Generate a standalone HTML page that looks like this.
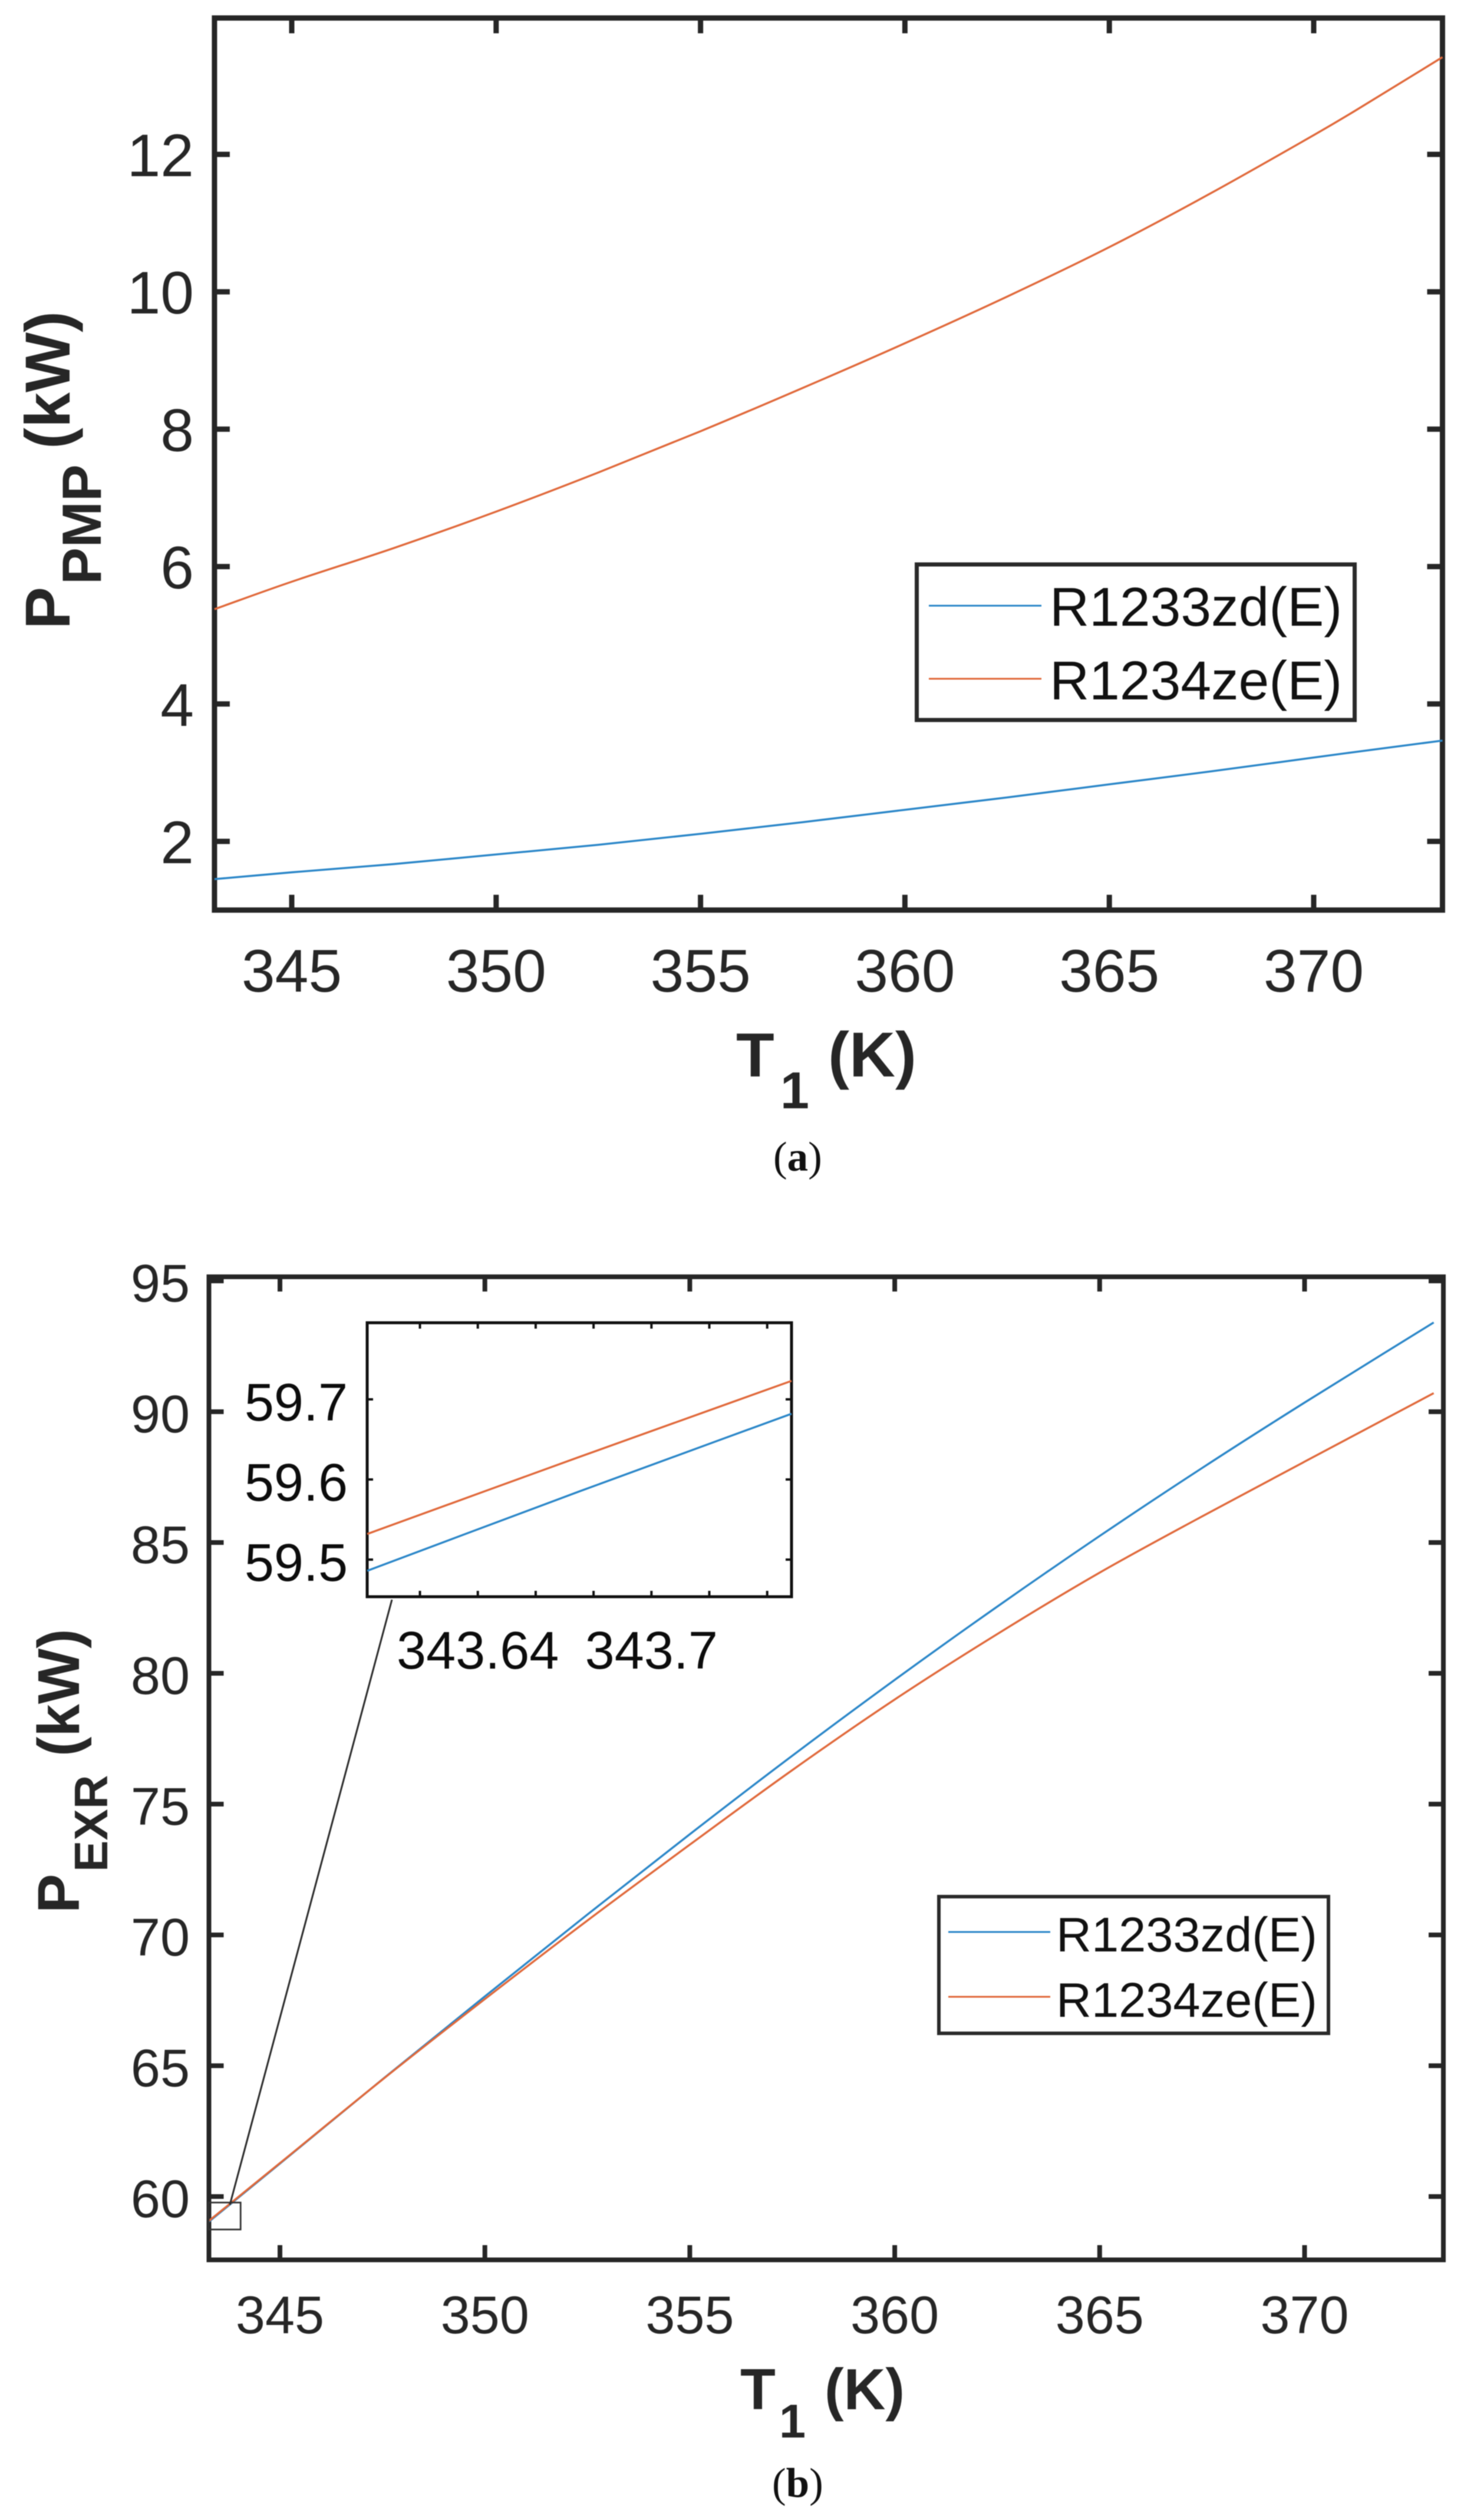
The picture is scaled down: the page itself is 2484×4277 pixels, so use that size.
<!DOCTYPE html>
<html lang="en">
<head>
<meta charset="utf-8">
<title>Pump and expander power versus temperature</title>
<style>
html,body{margin:0;padding:0;background:#fff;width:2484px;height:4277px;overflow:hidden}
svg{display:block;filter:blur(0.7px)}
text{font-family:"Liberation Sans",Arial,sans-serif}
.tick{fill:#262626}
.lab{fill:#262626;font-weight:700}
.leg{fill:#111;}
.cap{font-family:"Liberation Serif",serif;fill:#111}
.ins{fill:#0c0c0c}
</style>
</head>
<body>
<svg id="figure" xmlns="http://www.w3.org/2000/svg" width="2484" height="4277" viewBox="0 0 2484 4277">
  <rect width="2484" height="4277" fill="#fff"/>

  <g id="chart-a">
    <g id="a-marks"></g>
    <g>
      <rect x="1555.5" y="958" width="743" height="264" fill="#fff" stroke="#2a2a2a" stroke-width="7"/>
      <line x1="1576" y1="1028" x2="1767" y2="1028" stroke="#2a86c8" stroke-width="3"/>
      <line x1="1576" y1="1152" x2="1767" y2="1152" stroke="#e0683a" stroke-width="3"/>
      <text class="leg" x="1781" y="1062" font-size="93">R1233zd(E)</text>
      <text class="leg" x="1781" y="1187" font-size="93">R1234ze(E)</text>
    </g>
    <g>
      <text class="lab" x="1249" y="1827" font-size="106">T</text>
      <text class="lab" x="1324" y="1881" font-size="88">1</text>
      <text class="lab" x="1405" y="1827" font-size="108">(K)</text>
    </g>
    <g>
      <text class="lab" transform="translate(118 1068) rotate(-90)" font-size="108">P</text>
      <text class="lab" transform="translate(171 992) rotate(-90)" font-size="94">PMP</text>
      <text class="lab" transform="translate(118 762) rotate(-90)" font-size="108">(kW)</text>
    </g>
    <text class="cap" x="1312" y="1987" font-size="71">(<tspan font-weight="700">a</tspan>)</text>
  </g>

  <g id="chart-b">
    <g id="b-marks"></g>
    <g>
      <rect x="1593" y="3219" width="661" height="232" fill="#fff" stroke="#2a2a2a" stroke-width="6"/>
      <line x1="1609" y1="3279" x2="1782" y2="3279" stroke="#2a86c8" stroke-width="3"/>
      <line x1="1609" y1="3389" x2="1782" y2="3389" stroke="#e0683a" stroke-width="3"/>
      <text class="leg" x="1792" y="3312" font-size="83">R1233zd(E)</text>
      <text class="leg" x="1792" y="3423" font-size="83">R1234ze(E)</text>
    </g>
    <g>
      <text class="lab" x="1256" y="4089" font-size="98">T</text>
      <text class="lab" x="1322" y="4137" font-size="81">1</text>
      <text class="lab" x="1399" y="4089" font-size="98">(K)</text>
    </g>
    <g>
      <text class="lab" transform="translate(134 3247) rotate(-90)" font-size="100">P</text>
      <text class="lab" transform="translate(182 3177) rotate(-90)" font-size="80">EXR</text>
      <text class="lab" transform="translate(134 2981) rotate(-90)" font-size="100">(kW)</text>
    </g>
    <text class="cap" x="1310" y="4238" font-size="71">(<tspan font-weight="700">b</tspan>)</text>
  </g>
</svg>

<script>
// Chart (a): pump power
const aTemps = [343.11, 345, 347.5, 350, 352.5, 355, 357.5, 360, 362.5, 365, 367.5, 370, 371, 373.15];
const aR1233 = [1.45, 1.55, 1.67, 1.81, 1.95, 2.11, 2.28, 2.46, 2.64, 2.83, 3.02, 3.22, 3.30, 3.467];
const aR1234 = [5.38, 5.78, 6.27, 6.80, 7.37, 7.97, 8.60, 9.25, 9.93, 10.65, 11.44, 12.28, 12.63, 13.415];
const aXTicks = [345, 350, 355, 360, 365, 370];
const aYTicks = [2, 4, 6, 8, 10, 12];

// Chart (b): expander power
const bTemps = [343.26, 345, 347.5, 350, 352.5, 355, 357.5, 360, 362.5, 365, 367.5, 370, 373.15];
const bR1233 = [59.03, 61.26, 64.48, 67.65, 70.78, 73.85, 76.85, 79.75, 82.55, 85.25, 87.85, 90.35, 93.41];
const bR1234 = [59.06, 61.28, 64.47, 67.55, 70.55, 73.45, 76.30, 79.00, 81.50, 83.85, 86.00, 88.09, 90.71];
const bXTicks = [345, 350, 355, 360, 365, 370];
const bYTicks = [60, 65, 70, 75, 80, 85, 90, 95];
const bZoomWindowX = [343.26, 344.04];
const bZoomWindowY = [58.74, 59.77];

// Inset of chart (b)
const insetTemps = [343.6018, 343.675, 343.7484];
const insetR1233 = [59.486, 59.585, 59.682];
const insetR1234 = [59.532, 59.628, 59.723];
const insetXTicks = [343.62, 343.64, 343.66, 343.68, 343.70, 343.72, 343.74];
const insetXLabelValues = [343.64, 343.7];
const insetXLabels = ['343.64', '343.7'];
const insetYTicks = [59.5, 59.6, 59.7];
const insetYLabels = ['59.5', '59.6', '59.7'];

const NS = 'http://www.w3.org/2000/svg';
const AXIS = '#262626', BLUE = '#2a86c8', ORANGE = '#e0683a';

function make(parent, tag, attrs, text) {
  const el = document.createElementNS(NS, tag);
  for (const k in attrs) el.setAttribute(k, attrs[k]);
  if (text !== undefined) el.textContent = text;
  parent.appendChild(el);
  return el;
}
// Smooth curve through the data points (Catmull-Rom converted to cubic Beziers)
function linePath(xs, ys, sx, sy) {
  const px = xs.map(sx), py = ys.map(sy), n = px.length;
  let d = 'M' + px[0].toFixed(1) + ' ' + py[0].toFixed(1);
  for (let i = 0; i < n - 1; i++) {
    const a = Math.max(i - 1, 0), b = Math.min(i + 2, n - 1);
    const h = px[i + 1] - px[i];
    const m0 = (py[i + 1] - py[a]) / (px[i + 1] - px[a]);
    const m1 = (py[b] - py[i]) / (px[b] - px[i]);
    d += ' C' + (px[i] + h / 3).toFixed(1) + ' ' + (py[i] + m0 * h / 3).toFixed(1) + ' ' +
         (px[i + 1] - h / 3).toFixed(1) + ' ' + (py[i + 1] - m1 * h / 3).toFixed(1) + ' ' +
         px[i + 1].toFixed(1) + ' ' + py[i + 1].toFixed(1);
  }
  return d;
}

/* ---------- chart a ---------- */
const aG = document.getElementById('a-marks');
const ax = v => 495 + (v - 345) * 69.36;
const ay = v => 262 + (12 - v) * 116.6;
const aBox = {l: ax(343.11), r: ax(373.15), t: ay(13.985), b: ay(1)};

const aFrame = make(aG, 'rect', {x: aBox.l, y: aBox.t, width: aBox.r - aBox.l, height: aBox.b - aBox.t, fill: 'none', stroke: AXIS, 'stroke-width': 9});



aXTicks.forEach(v => {
  const t1 = make(aG, 'line', {x1: ax(v), x2: ax(v), y1: aBox.t, y2: aBox.t + 26, stroke: AXIS, 'stroke-width': 9});
  
  
  const t2 = make(aG, 'line', {x1: ax(v), x2: ax(v), y1: aBox.b, y2: aBox.b - 26, stroke: AXIS, 'stroke-width': 9});
  
  
  const lab = make(aG, 'text', {x: ax(v), y: 1683, 'font-size': 102, 'text-anchor': 'middle', class: 'tick'}, String(v));
  
  
});
aYTicks.forEach(v => {
  const t1 = make(aG, 'line', {x1: aBox.l, x2: aBox.l + 26, y1: ay(v), y2: ay(v), stroke: AXIS, 'stroke-width': 9});
  
  
  const t2 = make(aG, 'line', {x1: aBox.r, x2: aBox.r - 26, y1: ay(v), y2: ay(v), stroke: AXIS, 'stroke-width': 9});
  
  
  const lab = make(aG, 'text', {x: 329, y: ay(v) + 37, 'font-size': 102, 'text-anchor': 'end', class: 'tick'}, String(v));
  
  
});
const aLine1 = make(aG, 'path', {d: linePath(aTemps, aR1233, ax, ay), fill: 'none', stroke: BLUE, 'stroke-width': 3.4, 'stroke-linejoin': 'round'});


const aLine2 = make(aG, 'path', {d: linePath(aTemps, aR1234, ax, ay), fill: 'none', stroke: ORANGE, 'stroke-width': 3.4, 'stroke-linejoin': 'round'});



/* ---------- chart b ---------- */
const bG = document.getElementById('b-marks');
const bx = v => 475 + (v - 345) * 69.54;
const by = v => 3728 - (v - 60) * 44.4;
const bBox = {l: 354.5, r: 2449, t: 2167, b: 3835.5};

const bFrame = make(bG, 'rect', {x: bBox.l, y: bBox.t, width: bBox.r - bBox.l, height: bBox.b - bBox.t, fill: 'none', stroke: AXIS, 'stroke-width': 8});



bXTicks.forEach(v => {
  const t1 = make(bG, 'line', {x1: bx(v), x2: bx(v), y1: bBox.t, y2: bBox.t + 25, stroke: AXIS, 'stroke-width': 8});
  
  
  const t2 = make(bG, 'line', {x1: bx(v), x2: bx(v), y1: bBox.b, y2: bBox.b - 25, stroke: AXIS, 'stroke-width': 8});
  
  
  const lab = make(bG, 'text', {x: bx(v), y: 3960, 'font-size': 90, 'text-anchor': 'middle', class: 'tick'}, String(v));
  
  
});
bYTicks.forEach(v => {
  const t1 = make(bG, 'line', {x1: bBox.l, x2: bBox.l + 25, y1: by(v), y2: by(v), stroke: AXIS, 'stroke-width': 8});
  
  
  const t2 = make(bG, 'line', {x1: bBox.r, x2: bBox.r - 25, y1: by(v), y2: by(v), stroke: AXIS, 'stroke-width': 8});
  
  
  const lab = make(bG, 'text', {x: 322, y: by(v) + 35, 'font-size': 90, 'text-anchor': 'end', class: 'tick'}, String(v));
  
  
});
const bLine1 = make(bG, 'path', {d: linePath(bTemps, bR1233, bx, by), fill: 'none', stroke: BLUE, 'stroke-width': 3.4, 'stroke-linejoin': 'round'});


const bLine2 = make(bG, 'path', {d: linePath(bTemps, bR1234, bx, by), fill: 'none', stroke: ORANGE, 'stroke-width': 3.4, 'stroke-linejoin': 'round'});



const zoomBox = make(bG, 'rect', {x: bx(bZoomWindowX[0]), y: by(bZoomWindowY[1]), width: bx(bZoomWindowX[1]) - bx(bZoomWindowX[0]), height: by(bZoomWindowY[0]) - by(bZoomWindowY[1]), fill: 'none', stroke: '#333', 'stroke-width': 2.8});



/* ---------- inset ---------- */
const ix = v => 712.5 + (v - 343.62) * 4910;
const iy = v => 2647 - (v - 59.5) * 1360;
const iBox = {l: 623, r: 1343, t: 2245, b: 2710};

const connector = make(bG, 'line', {x1: 665, y1: 2715, x2: 390, y2: 3742, stroke: '#2a2a2a', 'stroke-width': 3});



const iFrame = make(bG, 'rect', {x: iBox.l, y: iBox.t, width: iBox.r - iBox.l, height: iBox.b - iBox.t, fill: '#fff', stroke: '#111', 'stroke-width': 5});



insetXTicks.forEach(v => {
  const t1 = make(bG, 'line', {x1: ix(v), x2: ix(v), y1: iBox.t, y2: iBox.t + 10, stroke: '#111', 'stroke-width': 4});
  
  
  const t2 = make(bG, 'line', {x1: ix(v), x2: ix(v), y1: iBox.b, y2: iBox.b - 10, stroke: '#111', 'stroke-width': 4});
  
  
});
insetYTicks.forEach((v, i) => {
  const t1 = make(bG, 'line', {x1: iBox.l, x2: iBox.l + 10, y1: iy(v), y2: iy(v), stroke: '#111', 'stroke-width': 4});
  
  
  const t2 = make(bG, 'line', {x1: iBox.r, x2: iBox.r - 10, y1: iy(v), y2: iy(v), stroke: '#111', 'stroke-width': 4});
  
  
  const lab = make(bG, 'text', {x: 590, y: iy(v) + 36, 'font-size': 90, 'text-anchor': 'end', class: 'ins'}, insetYLabels[i]);
  
  
});
insetXLabelValues.forEach((v, i) => {
  const lab = make(bG, 'text', {x: ix(v), y: 2832, 'font-size': 90, 'text-anchor': 'middle', class: 'ins'}, insetXLabels[i]);
  
  
});
const iLine1 = make(bG, 'path', {d: linePath(insetTemps, insetR1233, ix, iy), fill: 'none', stroke: BLUE, 'stroke-width': 3.4});


const iLine2 = make(bG, 'path', {d: linePath(insetTemps, insetR1234, ix, iy), fill: 'none', stroke: ORANGE, 'stroke-width': 3.4});


</script>
</body>
</html>
